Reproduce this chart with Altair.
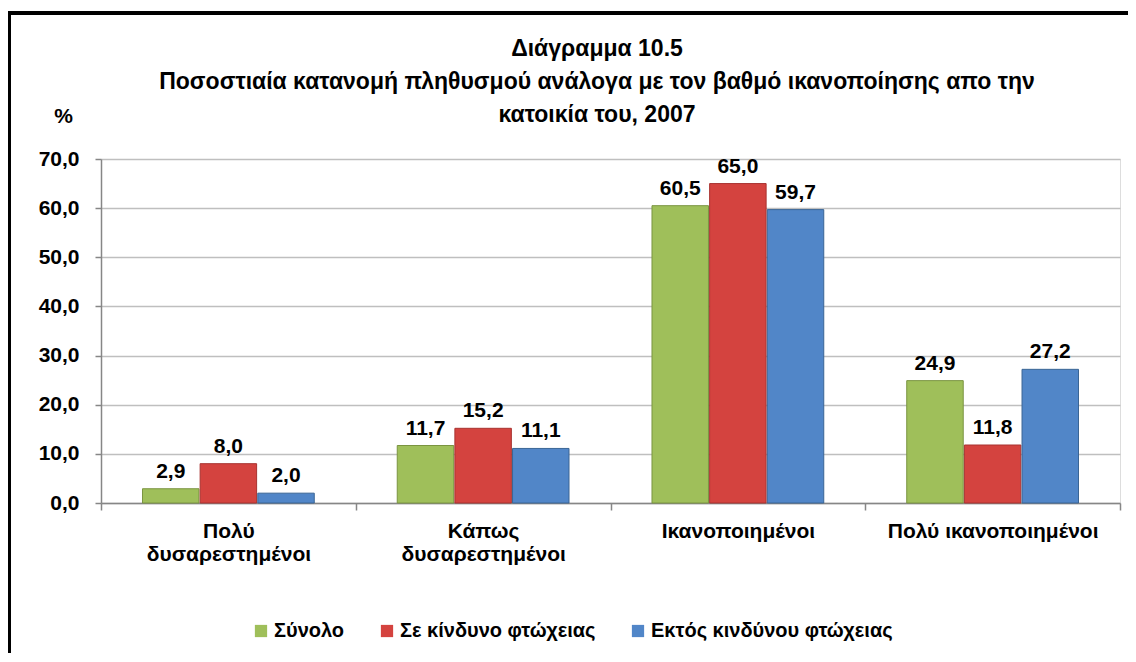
import altair as alt
import pandas as pd

categories = ["Πολύ|δυσαρεστημένοι", "Κάπως|δυσαρεστημένοι", "Ικανοποιημένοι", "Πολύ ικανοποιημένοι"]
series = ["Σύνολο", "Σε κίνδυνο φτώχειας", "Εκτός κινδύνου φτώχειας"]
total = [2.9, 11.7, 60.5, 24.9]
at_risk = [8.0, 15.2, 65.0, 11.8]
not_at_risk = [2.0, 11.1, 59.7, 27.2]
y_ticks = [0, 10, 20, 30, 40, 50, 60, 70]
colors = ["#9FBF5A", "#D4433F", "#5186C8"]
strokes = ["#7A9440", "#A83330", "#3A6595"]
title_lines = ["Διάγραμμα 10.5",
               "Ποσοστιαία κατανομή  πληθυσμού  ανάλογα με τον βαθμό ικανοποίησης απο την",
               "κατοικία του, 2007"]

rows = []
for s, vals in zip(series, [total, at_risk, not_at_risk]):
    for c, v in zip(categories, vals):
        rows.append({"cat": c, "series": s, "value": v,
                     "lbl": f"{v:.1f}".replace(".", ",")})
df = pd.DataFrame(rows)

FONT = "Liberation Sans"
FS = 21

x_enc = alt.X("cat:N", sort=categories,
              scale=alt.Scale(paddingInner=0, paddingOuter=0),
              axis=alt.Axis(title=None, labelAngle=0,
                            labelExpr="split(datum.label, '|')",
                            tickBand="extent", tickSize=7, tickColor="#868686",
                            tickWidth=1.5,
                            domainColor="#868686", domainWidth=1.5,
                            labelFont=FONT, labelFontSize=FS, labelFontWeight="bold",
                            labelColor="black", labelPadding=10, labelLineHeight=23,
                            labelLimit=400))
xo_enc = alt.XOffset("series:N", sort=series,
                     scale=alt.Scale(paddingOuter=0.72, paddingInner=0.02))
y_enc = alt.Y("value:Q", scale=alt.Scale(domain=[0, 70], nice=False),
              axis=alt.Axis(values=y_ticks,
                            labelExpr="replace(format(datum.value, '.1f'), '.', ',')",
                            title="%", titleAngle=0, titleX=-38, titleY=-43,
                            titleFont=FONT, titleFontSize=FS, titleFontWeight="bold",
                            titleColor="black", titleAlign="center", titleBaseline="middle",
                            labelFont=FONT, labelFontSize=FS, labelFontWeight="bold",
                            labelColor="black", labelPadding=16,
                            tickSize=6, tickColor="#868686", tickWidth=1.5,
                            domainColor="#868686", domainWidth=1.5,
                            gridColor="#BFBFBF", gridWidth=1.5))

base = alt.Chart(df)

bars = base.mark_bar(strokeWidth=1).encode(
    x=x_enc, xOffset=xo_enc, y=y_enc,
    color=alt.Color("series:N", sort=series,
                    scale=alt.Scale(domain=series, range=colors),
                    legend=alt.Legend(title=None, orient="none", direction="horizontal",
                                      legendX=150, legendY=462,
                                      symbolType="square", symbolSize=150,
                                      symbolStrokeWidth=0,
                                      labelFont=FONT, labelFontSize=20,
                                      labelFontWeight="bold", labelColor="black",
                                      labelLimit=500,
                                      columnPadding=32, labelOffset=3)),
    stroke=alt.Stroke("series:N", sort=series,
                      scale=alt.Scale(domain=series, range=strokes), legend=None),
)

labels = base.mark_text(font=FONT, fontSize=FS, fontWeight="bold", color="black",
                        baseline="bottom", dy=-7).encode(
    x=alt.X("cat:N", sort=categories), xOffset=alt.XOffset("series:N", sort=series),
    y="value:Q", text="lbl:N")

one = pd.DataFrame({"a": [0]})

frame = alt.Chart(one).mark_rect(
    fill=None, stroke="black", strokeWidth=4).encode(
    x=alt.value(-92), x2=alt.value(1300), y=alt.value(-146), y2=alt.value(700))

title = alt.Chart(one).mark_text(
    font=FONT, fontSize=23, fontWeight="bold", color="black",
    align="center", baseline="middle", lineHeight=33).encode(
    x=alt.value(496), y=alt.value(-110), text=alt.value(title_lines))

chart = alt.layer(bars, labels, frame, title).properties(
    width=1019, height=344,
    autosize=alt.AutoSizeParams(type="none"),
    padding={"left": 93, "top": 151, "right": 8, "bottom": 150},
).configure_view(stroke=None).configure(background="white")

chart.save("out.html", embed_options={"renderer": "svg", "actions": False})
